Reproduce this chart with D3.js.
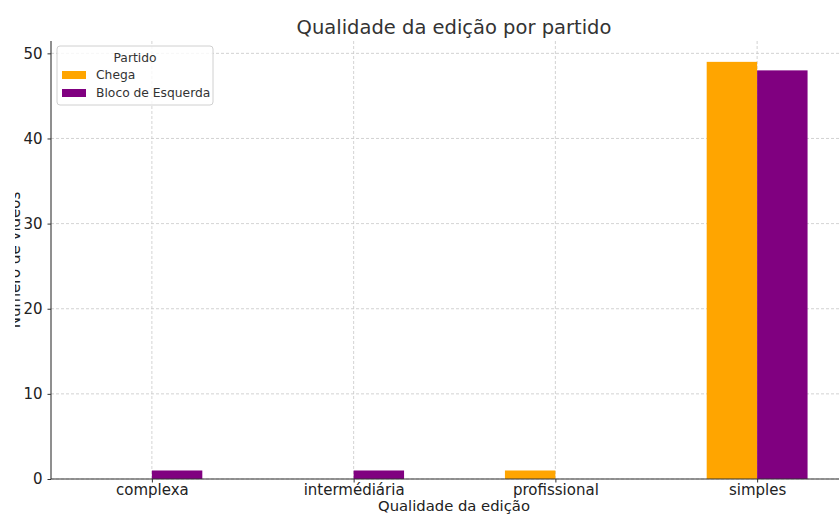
<!DOCTYPE html>
<html><head><meta charset="utf-8">
<script src="https://cdn.jsdelivr.net/npm/d3@7"></script>
<style>body{margin:0;background:#fff}svg{display:block;font-family:"DejaVu Sans",sans-serif}</style>
</head><body><svg id="c" width="839" height="515"></svg>
<script>
const categories = ["complexa","intermédiária","profissional","simples"];
const seriesNames = ["Chega","Bloco de Esquerda"];
const chega = [0,0,1,49];
const bloco = [1,1,0,48];
const yTicks = [0,10,20,30,40,50];
const colors = ["#FFA500","#800080"];

const svg = d3.select("#c");
const L=51, R=858, T=41, B=479;
const x = d3.scaleLinear().domain([-0.5,3.5]).range([L,R]);
const y = d3.scaleLinear().domain([0,51.45]).range([B,T]);
const bw = 0.25;

// grid
const g = svg.append("g");
g.selectAll(".gy").data(yTicks).join("line")
  .attr("x1",L).attr("x2",R).attr("y1",d=>y(d)).attr("y2",d=>y(d))
  .attr("stroke","#c8c8c8").attr("stroke-width",0.8).attr("stroke-dasharray","3,2");
g.selectAll(".gx").data(categories).join("line")
  .attr("x1",(d,i)=>x(i)).attr("x2",(d,i)=>x(i)).attr("y1",T).attr("y2",B)
  .attr("stroke","#c8c8c8").attr("stroke-width",0.8).attr("stroke-dasharray","3,2");

// bars
const series=[chega,bloco];
series.forEach((vals,s)=>{
  svg.append("g").selectAll("rect").data(vals).join("rect")
    .attr("x",(d,i)=>x(i + (s===0?-bw:0)))
    .attr("width",x(bw)-x(0))
    .attr("y",d=>y(d)).attr("height",d=>y(0)-y(d))
    .attr("fill",colors[s]);
});

// axes
const ax = svg.append("g").attr("transform",`translate(0,${B})`)
  .call(d3.axisBottom(x).tickValues([0,1,2,3]).tickFormat(i=>categories[i]).tickSize(3.5).tickPadding(1.5));
const ay = svg.append("g").attr("transform",`translate(${L},0)`)
  .call(d3.axisLeft(y).tickValues(yTicks).tickSize(3.5).tickPadding(5));
[ax,ay].forEach(a=>{
  a.select(".domain").attr("stroke","#333").attr("stroke-width",1.1);
  a.selectAll(".tick line").attr("stroke","#333");
  a.selectAll("text").attr("font-size",15).attr("fill","#222").attr("font-family","DejaVu Sans");
});
ax.select(".domain").attr("d",`M${L},0H${R}`);
ay.select(".domain").attr("d",`M0,${B}V${T}`);

// title & labels
svg.append("text").attr("x",454).attr("y",34).attr("text-anchor","middle")
  .attr("font-size",19.5).attr("fill","#333").text("Qualidade da edição por partido");
svg.append("text").attr("x",454).attr("y",511).attr("text-anchor","middle")
  .attr("font-size",14.8).attr("fill","#222").text("Qualidade da edição");
svg.append("clipPath").attr("id","yl").append("rect").attr("x",15).attr("y",0).attr("width",30).attr("height",515);
svg.append("g").attr("clip-path","url(#yl)").append("text")
  .attr("transform","translate(20,260) rotate(-90)").attr("text-anchor","middle")
  .attr("font-size",15).attr("fill","#222").text("Número de vídeos");

// legend
const lg = svg.append("g");
lg.append("rect").attr("x",57).attr("y",46).attr("width",156).attr("height",59).attr("rx",3)
  .attr("fill","#fff").attr("fill-opacity",0.8).attr("stroke","#d0d0d0");
lg.append("text").attr("x",135).attr("y",62).attr("text-anchor","middle").attr("font-size",12.3).attr("fill","#333").text("Partido");
seriesNames.forEach((n,i)=>{
  lg.append("rect").attr("x",62).attr("y",71+i*18).attr("width",24).attr("height",8).attr("fill",colors[i]);
  lg.append("text").attr("x",96).attr("y",79+i*18).attr("font-size",12.3).attr("fill","#333").text(n);
});
</script></body></html>
